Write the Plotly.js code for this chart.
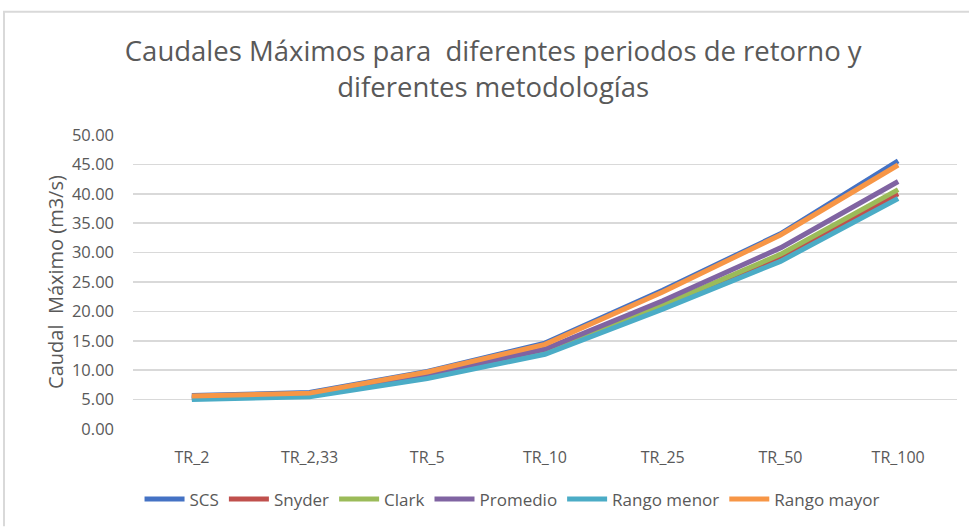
<!DOCTYPE html>
<html>
<head>
<meta charset="utf-8">
<script src="https://cdn.plot.ly/plotly-3.0.1.min.js"></script>
<style>html,body{margin:0;padding:0;background:#fff;}#chart{width:969px;height:529px;}</style>
</head>
<body>
<div id="chart"></div>
<script>
const categories = ["TR_2", "TR_2,33", "TR_5", "TR_10", "TR_25", "TR_50", "TR_100"];
const seriesNames = ["SCS", "Snyder", "Clark", "Promedio", "Rango menor", "Rango mayor"];
const scs        = [5.7, 6.2, 9.8, 14.6, 23.6, 33.2, 45.6];
const snyder     = [5.2, 5.7, 8.8, 13.0, 20.9, 29.3, 40.0];
const clark      = [5.3, 5.8, 8.9, 13.1, 21.1, 29.7, 40.7];
const promedio   = [5.4, 5.9, 9.2, 13.6, 21.8, 30.8, 42.1];
const rangoMenor = [5.0, 5.5, 8.6, 12.7, 20.4, 28.5, 39.2];
const rangoMayor = [5.6, 6.1, 9.7, 14.4, 23.3, 33.0, 44.9];
const colors = ["#4472C4", "#C0504D", "#9BBB59", "#8064A2", "#4BACC6", "#F79646"];
const allSeries = [scs, snyder, clark, promedio, rangoMenor, rangoMayor];

const font = "Open Sans, Noto Sans, sans-serif";
const traces = allSeries.map((vals, i) => ({
  type: "scatter", mode: "lines", name: seriesNames[i],
  x: categories, y: vals,
  line: {color: colors[i], width: 5}
}));

// plot area: x 133..957, y 135..430
const W = 969, H = 529, L = 133, R = 957, T = 135, B = 431;
const px = x => (x - L) / (R - L);
const py = y => (B - y) / (B - T);

const layout = {
  width: W, height: H,
  margin: {l: L, r: W - R, t: T, b: H - B},
  paper_bgcolor: "#fff", plot_bgcolor: "#fff",
  title: {text: "Caudales Máximos para  diferentes periodos de retorno y<br>diferentes metodologías",
          font: {family: font, size: 27.5, color: "#595959"}, x: 0.509, xanchor: "center", y: 0.885, yanchor: "middle"},
  xaxis: {type: "category", showgrid: false, zeroline: false, showline: false, ticks: "",
          ticklabelstandoff: 17,
          tickfont: {family: font, size: 16, color: "#595959"}, range: [-0.5, 6.5], fixedrange: true},
  yaxis: {range: [0, 50], dtick: 5, tickformat: ".2f", showgrid: true, gridcolor: "#d9d9d9", gridwidth: 1.5,
          zeroline: false, showline: false, ticks: "", ticklabelstandoff: 18,
          tickfont: {family: font, size: 16.5, color: "#595959"},
          title: {text: "Caudal  Máximo (m3/s)", font: {family: font, size: 20, color: "#595959"}, standoff: 2}},
  showlegend: true,
  legend: {orientation: "h", x: 0.46, xanchor: "center", y: py(502), yanchor: "middle",
           font: {family: font, size: 17, color: "#595959"}, itemwidth: 40, tracegroupgap: 0},
  shapes: [
    {type: "line", xref: "paper", yref: "paper", x0: px(3), x1: px(969), y0: py(11), y1: py(11), line: {color: "#d9d9d9", width: 2}},
    {type: "line", xref: "paper", yref: "paper", x0: px(4), x1: px(4), y0: py(11), y1: py(529), line: {color: "#d9d9d9", width: 2}}
  ]
};
Plotly.newPlot("chart", traces, layout, {displayModeBar: false, staticPlot: true});
</script>
</body>
</html>
